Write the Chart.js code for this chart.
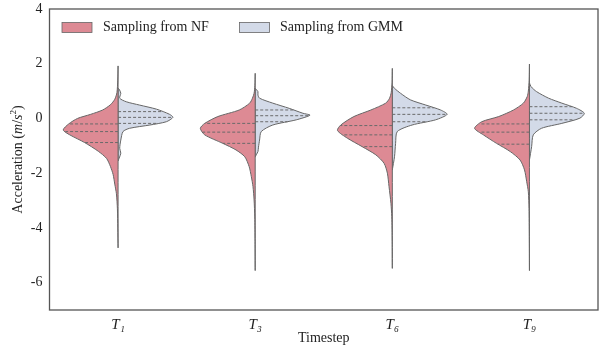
<!DOCTYPE html>
<html><head><meta charset="utf-8">
<script src="https://cdn.jsdelivr.net/npm/chart.js@4/dist/chart.umd.min.js"></script>
<style>html,body{margin:0;padding:0;background:#fff}#wrap{width:607px;height:345px;position:relative}</style>
</head><body><div id="wrap"><canvas id="c" width="607" height="345"></canvas></div>
<script>
// ---------- data ----------
const categories = ['T₁', 'T₃', 'T₆', 'T₉'];
const seriesNames = ['Sampling from NF', 'Sampling from GMM'];
const yTickValues = [-6, -4, -2, 0, 2, 4];
const xTitle = 'Timestep';
const yTitleParts = [['Acceleration (', false], ['m', true], ['/', false], ['s', true], ['2', 'sup'], [')', false]];

// NF halves: acceleration levels (m/s²) and relative density (max = 1)
const nfT1Y = [1.92, 1.4, 0.95, 0.7, 0.5, 0.31, 0.15, 0.0, -0.2, -0.42, -0.6, -0.88, -1.2, -1.46, -1.75, -2.05, -2.4, -2.75, -3.3, -4.0, -4.73];
const nfT1D = [0, 0.006, 0.02, 0.06, 0.14, 0.28, 0.5, 0.74, 0.9, 1.0, 0.88, 0.61, 0.36, 0.21, 0.14, 0.09, 0.06, 0.03, 0.012, 0.005, 0];
const nfT3Y = [1.65, 1.2, 0.92, 0.74, 0.56, 0.31, 0.07, -0.18, -0.36, -0.6, -0.91, -1.15, -1.4, -1.76, -2.13, -2.49, -2.98, -3.6, -4.5, -5.56];
const nfT3D = [0, 0.006, 0.02, 0.05, 0.1, 0.29, 0.68, 0.92, 1.0, 0.92, 0.59, 0.35, 0.19, 0.11, 0.07, 0.04, 0.02, 0.008, 0.003, 0];
const nfT6Y = [1.83, 1.3, 0.95, 0.74, 0.56, 0.31, 0.07, -0.24, -0.44, -0.72, -1.03, -1.33, -1.64, -2.0, -2.49, -3.1, -3.59, -4.5, -5.48];
const nfT6D = [0, 0.005, 0.02, 0.05, 0.12, 0.39, 0.7, 0.94, 1.0, 0.82, 0.55, 0.3, 0.15, 0.09, 0.06, 0.025, 0.01, 0.003, 0];
const nfT9Y = [1.99, 1.4, 1.0, 0.8, 0.56, 0.31, 0.07, -0.12, -0.36, -0.6, -0.91, -1.21, -1.52, -1.88, -2.31, -2.68, -3.3, -4.3, -5.56];
const nfT9D = [0, 0.005, 0.02, 0.04, 0.11, 0.29, 0.56, 0.87, 1.0, 0.84, 0.6, 0.35, 0.17, 0.09, 0.05, 0.02, 0.008, 0.003, 0];

// GMM halves
const gmmT1Y = [1.1, 1.07, 0.92, 0.74, 0.61, 0.49, 0.34, 0.15, 0.04, -0.12, -0.24, -0.36, -0.48, -0.79, -1.09, -1.27, -1.45, -1.55];
const gmmT1D = [0, 0.02, 0.05, 0.03, 0.15, 0.39, 0.7, 0.94, 1.0, 0.88, 0.58, 0.21, 0.09, 0.05, 0.03, 0.05, 0.02, 0];
const gmmT3Y = [1.1, 0.98, 0.86, 0.74, 0.56, 0.37, 0.19, 0.12, -0.05, -0.24, -0.48, -0.79, -1.05, -1.21, -1.4];
const gmmT3D = [0, 0.05, 0.05, 0.08, 0.32, 0.62, 0.87, 1.0, 0.75, 0.32, 0.11, 0.08, 0.06, 0.05, 0];
const gmmT6Y = [1.2, 1.1, 0.92, 0.68, 0.49, 0.31, 0.15, -0.05, -0.24, -0.48, -0.91, -1.4, -1.88];
const gmmT6D = [0, 0.04, 0.15, 0.33, 0.61, 0.88, 1.0, 0.79, 0.36, 0.09, 0.06, 0.04, 0];
const gmmT9Y = [1.3, 1.16, 0.98, 0.74, 0.56, 0.37, 0.19, 0.01, -0.18, -0.36, -0.6, -1.03, -1.52];
const gmmT9D = [0, 0.03, 0.13, 0.35, 0.59, 0.86, 1.0, 0.92, 0.59, 0.22, 0.07, 0.04, 0];

// quartiles (75%, median, 25%) per timestep
const nfQuartiles = [[-0.20, -0.48, -0.88], [-0.18, -0.50, -0.91], [-0.26, -0.60, -1.03], [-0.20, -0.50, -0.94]];
const gmmQuartiles = [[0.25, 0.04, -0.18], [0.31, 0.10, -0.12], [0.39, 0.15, -0.12], [0.43, 0.19, -0.05]];

// ---------- styles ----------
const NF_FILL = '#dd8a94';
const GMM_FILL = '#d3dae8';
const EDGE = '#666666';
const HALF = 0.4;
const SERIF = '"Liberation Serif", "Times New Roman", serif';

const nfProfiles = [[nfT1Y, nfT1D], [nfT3Y, nfT3D], [nfT6Y, nfT6D], [nfT9Y, nfT9D]];
const gmmProfiles = [[gmmT1Y, gmmT1D], [gmmT3Y, gmmT3D], [gmmT6Y, gmmT6D], [gmmT9Y, gmmT9D]];

function densityAt(ys, ds, q) {
  for (let i = 0; i < ys.length - 1; i++) {
    const a = ys[i], b = ys[i + 1];
    if ((q <= a && q >= b) || (q >= a && q <= b)) {
      const t = (q - a) / (b - a);
      return ds[i] + t * (ds[i + 1] - ds[i]);
    }
  }
  return 0;
}

function halfPolygon(center, ys, ds, side) {
  const pts = [{x: center, y: ys[0]}];
  for (let i = 0; i < ys.length; i++) pts.push({x: center + side * ds[i] * HALF, y: ys[i]});
  pts.push({x: center, y: ys[ys.length - 1]});
  pts.push({x: center, y: ys[0]});
  return pts;
}

const datasets = [];
function addHalves(profiles, side, fill) {
  profiles.forEach(([ys, ds], i) => {
    datasets.push({
      data: halfPolygon(i + 1, ys, ds, side),
      borderColor: EDGE, borderWidth: 1, backgroundColor: fill,
      fill: 'shape', pointRadius: 0, tension: 0.25, order: 2
    });
  });
}
addHalves(nfProfiles, -1, NF_FILL);
addHalves(gmmProfiles, 1, GMM_FILL);

function addQuartiles(profiles, quartiles, side) {
  quartiles.forEach((qs, i) => {
    const [ys, ds] = profiles[i];
    qs.forEach((q) => {
      const w = densityAt(ys, ds, q) * HALF;
      datasets.push({
        data: [{x: i + 1, y: q}, {x: i + 1 + side * w, y: q}],
        borderColor: '#6a6a6a', borderWidth: 1,
        borderDash: [3, 2],
        fill: false, pointRadius: 0, tension: 0, order: 0
      });
    });
  });
}
addQuartiles(nfProfiles, nfQuartiles, -1);
addQuartiles(gmmProfiles, gmmQuartiles, 1);

// ---------- plugins ----------
const framePlugin = {
  id: 'frame',
  afterDraw(chart) {
    const {ctx, chartArea: a} = chart;
    ctx.save();
    ctx.strokeStyle = '#555';
    ctx.lineWidth = 1.3;
    ctx.strokeRect(a.left, a.top, a.right - a.left, a.bottom - a.top);
    ctx.restore();
  }
};
const yTitlePlugin = {
  id: 'yTitle',
  afterDraw(chart) {
    const {ctx, chartArea: a} = chart;
    const size = 14;
    const fontOf = (it) => (it === true ? 'italic ' : '') + (it === 'sup' ? 9 : size) + 'px ' + SERIF;
    ctx.save();
    let total = 0;
    yTitleParts.forEach(([t, it]) => { ctx.font = fontOf(it); total += ctx.measureText(t).width; });
    ctx.translate(18, (a.top + a.bottom) / 2);
    ctx.rotate(-Math.PI / 2);
    ctx.fillStyle = '#222';
    ctx.textBaseline = 'middle';
    let x = -total / 2;
    yTitleParts.forEach(([t, it]) => {
      ctx.font = fontOf(it);
      ctx.fillText(t, x, it === 'sup' ? -4 : 0);
      x += ctx.measureText(t).width;
    });
    ctx.restore();
  }
};
const legendPlugin = {
  id: 'insideLegend',
  afterDraw(chart) {
    const {ctx, chartArea: a} = chart;
    const items = [
      {text: seriesNames[0], fill: NF_FILL, bx: 12.5, tx: 53.5},
      {text: seriesNames[1], fill: GMM_FILL, bx: 190, tx: 230.5}
    ];
    ctx.save();
    ctx.font = '14px ' + SERIF;
    ctx.textBaseline = 'middle';
    items.forEach(it => {
      ctx.fillStyle = it.fill;
      ctx.fillRect(a.left + it.bx, a.top + 13.5, 30, 10);
      ctx.strokeStyle = EDGE; ctx.lineWidth = 0.8;
      ctx.strokeRect(a.left + it.bx, a.top + 13.5, 30, 10);
      ctx.fillStyle = '#222';
      ctx.fillText(it.text, a.left + it.tx, a.top + 18.5);
    });
    ctx.restore();
  }
};

new Chart(document.getElementById('c'), {
  type: 'line',
  data: {datasets},
  options: {
    responsive: false, animation: false, events: [],
    layout: {padding: {left: 0, right: 9, top: 9, bottom: 0}},
    plugins: {legend: {display: false}, tooltip: {enabled: false}},
    scales: {
      x: {
        type: 'linear', min: 0.5, max: 4.5,
        afterBuildTicks: s => { s.ticks = categories.map((_, i) => ({value: i + 1})); },
        grid: {display: false, drawTicks: false}, border: {display: false},
        ticks: {callback: v => categories[v - 1] ?? '', font: {family: SERIF, size: 15, style: 'italic'}, color: '#222', padding: 6, maxRotation: 0, autoSkip: false},
        title: {display: true, text: xTitle, font: {family: SERIF, size: 14, lineHeight: 1}, color: '#222', padding: {top: 0, bottom: 0}},
        afterFit: s => { s.height = 35; s.paddingLeft = 0; s.paddingRight = 0; }
      },
      y: {
        type: 'linear', min: -7, max: 4,
        afterBuildTicks: s => { s.ticks = yTickValues.map(v => ({value: v})); },
        grid: {display: false, drawTicks: false}, border: {display: false},
        ticks: {callback: v => String(v), font: {family: SERIF, size: 14}, color: '#222', padding: 7},
        title: {display: false},
        afterFit: s => { s.width = 49.5; s.paddingTop = 0; s.paddingBottom = 0; }
      }
    }
  },
  plugins: [framePlugin, yTitlePlugin, legendPlugin]
});
</script></body></html>
